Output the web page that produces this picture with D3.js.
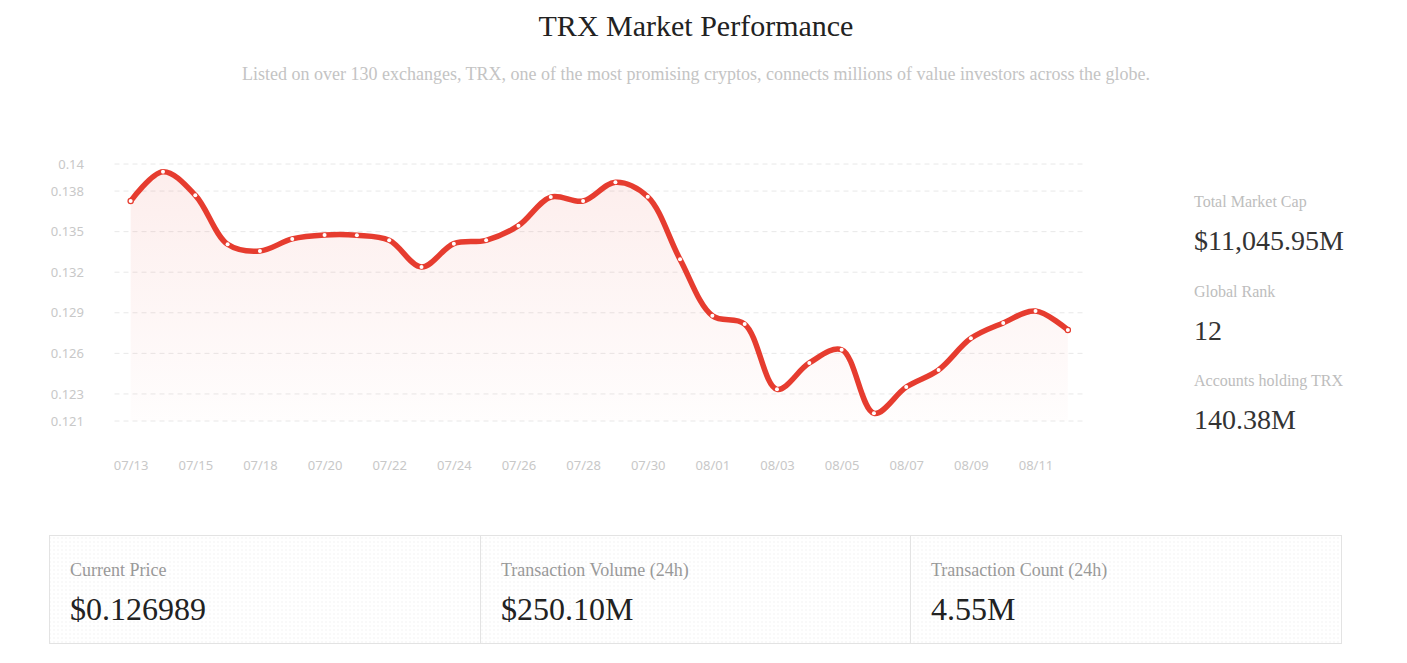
<!DOCTYPE html>
<html>
<head>
<meta charset="utf-8">
<script src="https://cdn.jsdelivr.net/npm/d3@7/dist/d3.min.js"></script>
<style>
  html, body { margin: 0; padding: 0; background: #fff; }
  svg { display: block; }
</style>
</head>
<body>
<svg id="chart" width="1407" height="663"></svg>
<script>
// ---- data ----
const dates = ["07/13","07/14","07/15","07/17","07/18","07/19","07/20","07/21","07/22","07/23",
               "07/24","07/25","07/26","07/27","07/28","07/29","07/30","07/31","08/01","08/02",
               "08/03","08/04","08/05","08/06","08/07","08/08","08/09","08/10","08/11","08/12"];
const prices = [0.13726,0.13943,0.13769,0.13406,0.13357,0.13446,0.13475,0.13473,0.13436,0.13238,
                0.13411,0.13436,0.13544,0.13756,0.13726,0.13865,0.13758,0.13295,0.12878,0.12817,
                0.12334,0.12529,0.12627,0.12157,0.12351,0.12477,0.12711,0.12825,0.12913,0.12773];
const xTickLabels = ["07/13","07/15","07/18","07/20","07/22","07/24","07/26","07/28","07/30",
                     "08/01","08/03","08/05","08/07","08/09","08/11"];
const yTickValues = [0.121,0.123,0.126,0.129,0.132,0.135,0.138,0.14];
const yDomain = [0.121, 0.14];

const titleText = "TRX Market Performance";
const subtitleText = "Listed on over 130 exchanges, TRX, one of the most promising cryptos, connects millions of value investors across the globe.";
const sideLabels = ["Total Market Cap","Global Rank","Accounts holding TRX"];
const sideValues = ["$11,045.95M","12","140.38M"];
const statLabels = ["Current Price","Transaction Volume (24h)","Transaction Count (24h)"];
const statValues = ["$0.126989","$250.10M","4.55M"];

// ---- drawing ----
const svg = d3.select("#chart");
const serif = "'Liberation Serif','Times New Roman',serif";
const sans = "'Noto Sans','Open Sans',sans-serif";
const red = "#e63c2f";

const defs = svg.append("defs");
const grad = defs.append("linearGradient").attr("id","areaGrad")
  .attr("x1",0).attr("y1",0).attr("x2",0).attr("y2",1);
grad.append("stop").attr("offset","0%").attr("stop-color",red).attr("stop-opacity",0.09);
grad.append("stop").attr("offset","100%").attr("stop-color",red).attr("stop-opacity",0.01);

const pat = defs.append("pattern").attr("id","dots").attr("patternUnits","userSpaceOnUse")
  .attr("width",4).attr("height",4);
pat.append("circle").attr("cx",2).attr("cy",2).attr("r",0.9).attr("fill","#f6f6f6");

// title
svg.append("text").attr("x",696).attr("y",36).attr("text-anchor","middle")
  .attr("font-family",serif).attr("font-size",30).attr("fill","#222").text(titleText);
svg.append("text").attr("x",696).attr("y",80).attr("text-anchor","middle")
  .attr("font-family",serif).attr("font-size",18).attr("fill","#c4c4c4").text(subtitleText);

// scales
const x = d3.scalePoint().domain(dates).range([114.5, 1084]).padding(0.5);
const y = d3.scaleLinear().domain(yDomain).range([421, 164]);

// grid + y axis
const yAxis = d3.axisLeft(y).tickValues(yTickValues).tickFormat(d3.format("")).tickSize(0).tickPadding(0);
const gy = svg.append("g").attr("transform","translate(84,0)").call(yAxis);
gy.select(".domain").remove();
gy.selectAll("text").attr("font-family",sans).attr("font-size",13).attr("fill","#c8c8c8").attr("dx",0);

svg.append("g").selectAll("line").data(yTickValues).join("line")
  .attr("x1",114.5).attr("x2",1084)
  .attr("y1",d=>y(d)).attr("y2",d=>y(d))
  .attr("stroke","#e8e8e8").attr("stroke-width",1).attr("stroke-dasharray","5,4");

// x axis
const xAxis = d3.axisBottom(x).tickValues(xTickLabels).tickSize(0).tickPadding(0);
const gx = svg.append("g").attr("transform","translate(0,461)").call(xAxis);
gx.select(".domain").remove();
gx.selectAll("text").attr("font-family",sans).attr("font-size",13).attr("fill","#c8c8c8").attr("dy","0.71em");

// area + line
const curve = d3.curveCatmullRom.alpha(0.5);
const area = d3.area().x((d,i)=>x(dates[i])).y0(y(yDomain[0])).y1(d=>y(d)).curve(curve);
svg.append("path").datum(prices).attr("d",area).attr("fill","url(#areaGrad)");
const line = d3.line().x((d,i)=>x(dates[i])).y(d=>y(d)).curve(curve);
svg.append("path").datum(prices).attr("d",line).attr("fill","none")
  .attr("stroke",red).attr("stroke-width",5.5).attr("stroke-linejoin","round").attr("stroke-linecap","round");
svg.append("g").selectAll("circle").data(prices).join("circle")
  .attr("cx",(d,i)=>x(dates[i])).attr("cy",d=>y(d))
  .attr("r",(d,i)=> (i===0||i===prices.length-1) ? 2.6 : 2)
  .attr("fill","#fff").attr("stroke",red).attr("stroke-width",(d,i)=> (i===0||i===prices.length-1) ? 1.2 : 0);

// side panel
const side = svg.append("g");
sideLabels.forEach((t,i)=>{
  side.append("text").attr("x",1194).attr("y",207+i*89.5)
    .attr("font-family",serif).attr("font-size",16).attr("fill","#bdbdbd").text(t);
  side.append("text").attr("x",1194).attr("y",250+i*89.5)
    .attr("font-family",serif).attr("font-size",28).attr("fill","#333").text(sideValues[i]);
});

// bottom stats
const boxX = [49.5, 480.5, 910.5, 1341.5];
const bottom = svg.append("g");
bottom.append("rect").attr("x",49.5).attr("y",535.5).attr("width",1292).attr("height",108)
  .attr("fill","url(#dots)").attr("stroke","#e3e3e3").attr("stroke-width",1);
[480.5, 910.5].forEach(xx=>{
  bottom.append("line").attr("x1",xx).attr("x2",xx).attr("y1",535.5).attr("y2",643.5)
    .attr("stroke","#e3e3e3").attr("stroke-width",1);
});
statLabels.forEach((t,i)=>{
  bottom.append("text").attr("x",boxX[i]+20.5).attr("y",576)
    .attr("font-family",serif).attr("font-size",18).attr("fill","#999").text(t);
  bottom.append("text").attr("x",boxX[i]+20.5).attr("y",620)
    .attr("font-family",serif).attr("font-size",32).attr("fill","#222").text(statValues[i]);
});
</script>
</body>
</html>
